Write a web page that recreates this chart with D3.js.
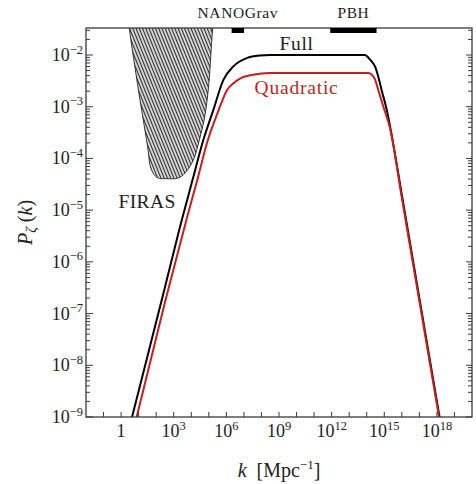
<!DOCTYPE html>
<html>
<head>
<meta charset="utf-8">
<script src="https://cdn.jsdelivr.net/npm/d3@7"></script>
<style>
  html, body { margin: 0; padding: 0; background: #fff; }
  svg { display: block; }
  text { font-family: "Liberation Serif", "Times New Roman", "DejaVu Serif", serif; fill: #222; }
</style>
</head>
<body>
<svg id="chart" width="476" height="484" font-family="Liberation Serif, serif"></svg>
<script>
// Curvature power spectrum P_zeta(k): full result vs quadratic approximation.
// Values are stored as log10(k / Mpc^-1) and log10(P_zeta).
const fullLogK = [0.55, 1.5, 2.5, 3.46, 4.1, 4.69, 5.26, 5.83, 6.4, 7.16, 7.92, 8.49, 10, 12, 13.9, 14.19, 14.47, 14.66, 14.85, 15.14, 15.33, 16, 17, 18.2];
const fullLogP = [-9.1, -7.83, -6.49, -5.19, -4.38, -3.64, -3.06, -2.48, -2.22, -2.06, -2.01, -2.0, -2.0, -2.0, -2.0, -2.09, -2.22, -2.42, -2.68, -3.06, -3.38, -4.7, -6.7, -9.1];

const quadLogK = [0.8, 1.5, 2.5, 3.72, 4.33, 4.95, 5.5, 6.05, 6.42, 6.8, 7.52, 8.49, 10, 12, 14.09, 14.29, 14.47, 14.66, 14.95, 15.33, 16, 17, 18.15];
const quadLogP = [-9.12, -8.16, -6.78, -5.19, -4.43, -3.64, -3.12, -2.67, -2.54, -2.45, -2.38, -2.35, -2.35, -2.35, -2.35, -2.38, -2.47, -2.68, -3.0, -3.42, -4.76, -6.76, -9.06];

// FIRAS spectral-distortion exclusion region (outline)
const firasLogK = [0.40, 0.47, 1.0, 1.54, 1.65, 1.82, 2.11, 2.5, 3.25, 3.65, 4.12, 4.46, 4.73, 4.97, 5.17, 5.22, 5.28];
const firasLogP = [-1.2, -1.48, -2.7, -3.84, -4.13, -4.28, -4.38, -4.39, -4.38, -4.28, -4.03, -3.64, -3.26, -2.67, -1.71, -1.48, -1.2];

// Observational windows marked along the top edge
const windowNames = ["NANOGrav", "PBH"];
const windowLogKMin = [6.3, 11.92];
const windowLogKMax = [7.01, 14.56];

// Axis ticks
const xTickExps = d3.range(-1, 20);
const xLabelExps = [0, 3, 6, 9, 12, 15, 18];
const yTickExps = [-9, -8, -7, -6, -5, -4, -3, -2];

const kMin = 1e-2, kMax = 1e20;
const pMin = 1e-9, pMax = 3.33e-2;

const plot = { left: 86, right: 472, top: 28, bottom: 417 };

const svg = d3.select("#chart");
const x = d3.scaleLog().domain([kMin, kMax]).range([plot.left, plot.right]);
const y = d3.scaleLog().domain([pMin, pMax]).range([plot.bottom, plot.top]);

const defs = svg.append("defs");
defs.append("clipPath").attr("id", "plotClip")
  .append("rect")
  .attr("x", plot.left).attr("y", plot.top)
  .attr("width", plot.right - plot.left).attr("height", plot.bottom - plot.top);

const hatch = defs.append("pattern")
  .attr("id", "hatch")
  .attr("patternUnits", "userSpaceOnUse")
  .attr("width", 3).attr("height", 3)
  .attr("patternTransform", "rotate(-22)");
hatch.append("rect").attr("width", 3).attr("height", 3).attr("fill", "#fff");
hatch.append("line")
  .attr("x1", 1.5).attr("y1", -1).attr("x2", 1.5).attr("y2", 4)
  .attr("stroke", "#2a2a2a").attr("stroke-width", 1.4);

const toPoints = (lk, lp) => lk.map((v, i) => [x(Math.pow(10, v)), y(Math.pow(10, lp[i]))]);

const body = svg.append("g").attr("clip-path", "url(#plotClip)");

// FIRAS region
const firasLine = d3.line().curve(d3.curveCatmullRom.alpha(0.5));
body.append("path")
  .attr("d", firasLine(toPoints(firasLogK, firasLogP)) + "Z")
  .attr("fill", "url(#hatch)")
  .attr("stroke", "#222")
  .attr("stroke-width", 0.9);

// Spectra
const specLine = d3.line().curve(d3.curveMonotoneX);
body.append("path")
  .attr("d", specLine(toPoints(fullLogK, fullLogP)))
  .attr("fill", "none").attr("stroke", "#000").attr("stroke-width", 2.0)
  .attr("stroke-linejoin", "round");
body.append("path")
  .attr("d", specLine(toPoints(quadLogK, quadLogP)))
  .attr("fill", "none").attr("stroke", "#cc1c1c").attr("stroke-width", 2.0)
  .attr("stroke-linejoin", "round");

// Frame
const axisColor = "#3a3a3a";
svg.append("rect")
  .attr("x", plot.left).attr("y", plot.top)
  .attr("width", plot.right - plot.left).attr("height", plot.bottom - plot.top)
  .attr("fill", "none").attr("stroke", axisColor).attr("stroke-width", 1.3);

// X ticks (inward, bottom edge)
const ticks = svg.append("g").attr("stroke", axisColor).attr("stroke-width", 1);
xTickExps.forEach(e => {
  const px = x(Math.pow(10, e));
  ticks.append("line").attr("x1", px).attr("x2", px)
    .attr("y1", plot.bottom).attr("y2", plot.bottom - 5);
});

// Y ticks (inward, left and right edges), majors and minors
const yMinor = [];
yTickExps.concat([-1]).forEach(e => {
  for (let m = 2; m <= 9; m++) {
    const v = m * Math.pow(10, e - 1);
    if (v > pMin && v < pMax) yMinor.push(v);
  }
});
yTickExps.forEach(e => {
  const py = y(Math.pow(10, e));
  ticks.append("line").attr("x1", plot.left).attr("x2", plot.left + 7).attr("y1", py).attr("y2", py);
  ticks.append("line").attr("x1", plot.right).attr("x2", plot.right - 6).attr("y1", py).attr("y2", py);
});
yMinor.forEach(v => {
  const py = y(v);
  ticks.append("line").attr("x1", plot.left).attr("x2", plot.left + 4).attr("y1", py).attr("y2", py);
  ticks.append("line").attr("x1", plot.right).attr("x2", plot.right - 4).attr("y1", py).attr("y2", py);
});

// Tick labels
const minus = "\u2212";
xLabelExps.forEach(e => {
  const t = svg.append("text")
    .attr("x", x(Math.pow(10, e))).attr("y", 437)
    .attr("text-anchor", "middle").attr("font-size", 18);
  if (e === 0) {
    t.text("1");
  } else {
    t.append("tspan").text("10");
    t.append("tspan").attr("font-size", 12.5).attr("dy", -7.5).text(String(e));
  }
});
yTickExps.forEach(e => {
  const t = svg.append("text")
    .attr("x", 83).attr("y", y(Math.pow(10, e)) + 6)
    .attr("text-anchor", "end").attr("font-size", 18);
  t.append("tspan").text("10");
  t.append("tspan").attr("font-size", 12.5).attr("dy", -7.5).text(minus + Math.abs(e));
});

// Axis titles
const xt = svg.append("text")
  .attr("x", (plot.left + plot.right) / 2).attr("y", 477)
  .attr("text-anchor", "middle").attr("font-size", 20);
xt.append("tspan").attr("font-style", "italic").text("k");
xt.append("tspan").attr("xml:space", "preserve").text("  [Mpc");
xt.append("tspan").attr("font-size", 13).attr("dy", -8).text(minus + "1");
xt.append("tspan").attr("dy", 8).text("]");

const yt = svg.append("text")
  .attr("transform", `translate(32, ${(plot.top + plot.bottom) / 2}) rotate(-90)`)
  .attr("text-anchor", "middle").attr("font-size", 20);
yt.append("tspan").attr("font-style", "italic").text("P");
yt.append("tspan").attr("font-style", "italic").attr("font-size", 14).attr("dy", 4).text("\u03B6");
yt.append("tspan").attr("dy", -4).attr("xml:space", "preserve").text(" (");
yt.append("tspan").attr("font-style", "italic").text("k");
yt.append("tspan").text(")");

// Observational windows along the top edge
windowNames.forEach((name, i) => {
  const x0 = x(Math.pow(10, windowLogKMin[i]));
  const x1 = x(Math.pow(10, windowLogKMax[i]));
  svg.append("rect")
    .attr("x", x0).attr("y", plot.top)
    .attr("width", x1 - x0).attr("height", 5)
    .attr("fill", "#000");
  svg.append("text")
    .attr("x", (x0 + x1) / 2).attr("y", 18)
    .attr("text-anchor", "middle").attr("font-size", 15.5)
    .attr("letter-spacing", 0.6)
    .text(name);
});

// Curve and region annotations
svg.append("text")
  .attr("x", x(1e10)).attr("y", y(Math.pow(10, -1.9)))
  .attr("text-anchor", "middle").attr("font-size", 19.5)
  .attr("letter-spacing", 0.6)
  .text("Full");
svg.append("text")
  .attr("x", x(1e10)).attr("y", y(Math.pow(10, -2.75)))
  .attr("text-anchor", "middle").attr("font-size", 19.5)
  .attr("letter-spacing", 0.8)
  .style("fill", "#cc1c1c")
  .text("Quadratic");
svg.append("text")
  .attr("x", x(Math.pow(10, 1.48))).attr("y", y(Math.pow(10, -4.96)))
  .attr("text-anchor", "middle").attr("font-size", 19.5)
  .attr("letter-spacing", 0.4)
  .text("FIRAS");
</script>
</body>
</html>
